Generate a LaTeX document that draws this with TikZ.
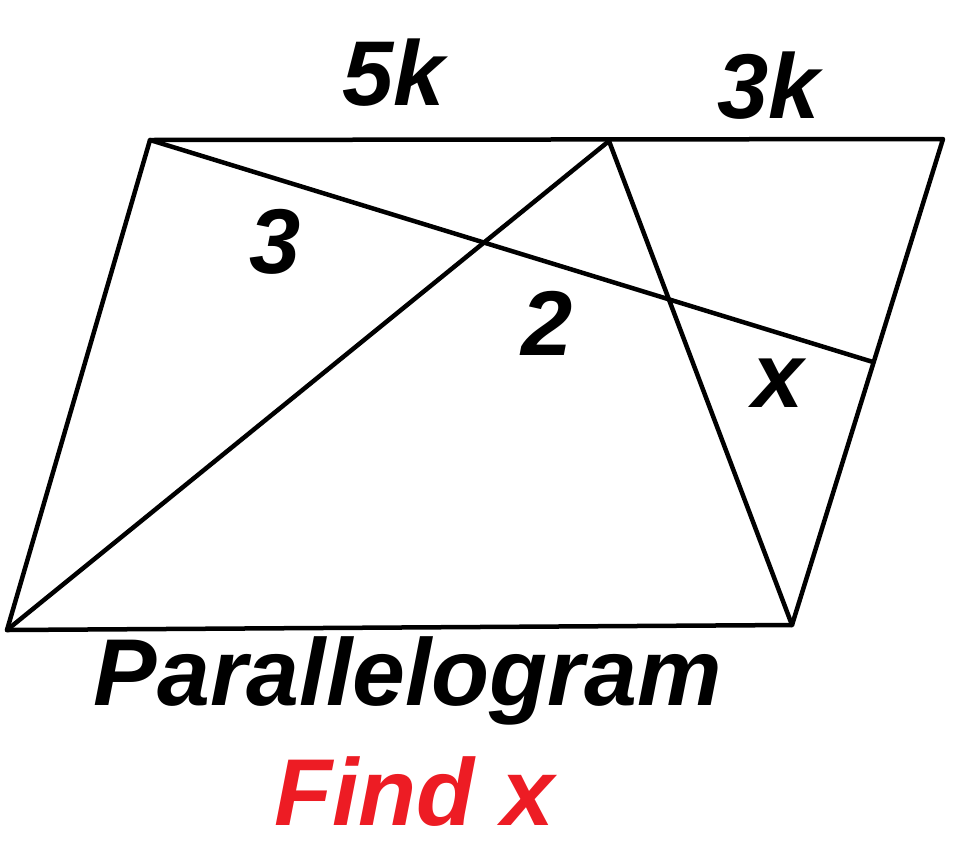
\documentclass[tikz,border=0pt]{standalone}
\usepackage{fontspec}
\setmainfont{Liberation Sans}
\definecolor{findred}{RGB}{237,28,36}
\tikzset{
  edge/.style={draw=black, line width=4.5pt, line join=round, line cap=round},
  lbl/.style={font=\fontsize{92}{92}\selectfont\bfseries\itshape, anchor=base, inner sep=0pt},
  title/.style={font=\fontsize{95}{95}\selectfont\bfseries\itshape, anchor=base, inner sep=0pt}
}
\begin{document}
\begin{tikzpicture}[x=1pt,y=-1pt]
\useasboundingbox (0,0) rectangle (965,852);
\coordinate (A) at (150,140);
\coordinate (B) at (943,139);
\coordinate (C) at (792,625);
\coordinate (D) at (7,630);
\coordinate (E) at (609,141);
\coordinate (F) at (873,362);
\draw[edge] (A) -- (B) -- (C) -- (D) -- cycle;
\draw[edge] (A) -- (F);
\draw[edge] (E) -- (D);
\draw[edge] (E) -- (C);
\node[lbl] (l5k) at (394,105) {5k};
\node[lbl] (l3k) at (769,118) {3k};
\node[lbl] (l3) at (275,273) {3};
\node[lbl] (l2) at (547,355) {2};
\node[lbl] (lx) at (778,407) {x};
\node[title] (par) at (408,705) {Parallelogram};
\node[title, text=findred] (find) at (414,825) {Find x};
\end{tikzpicture}
\end{document}
